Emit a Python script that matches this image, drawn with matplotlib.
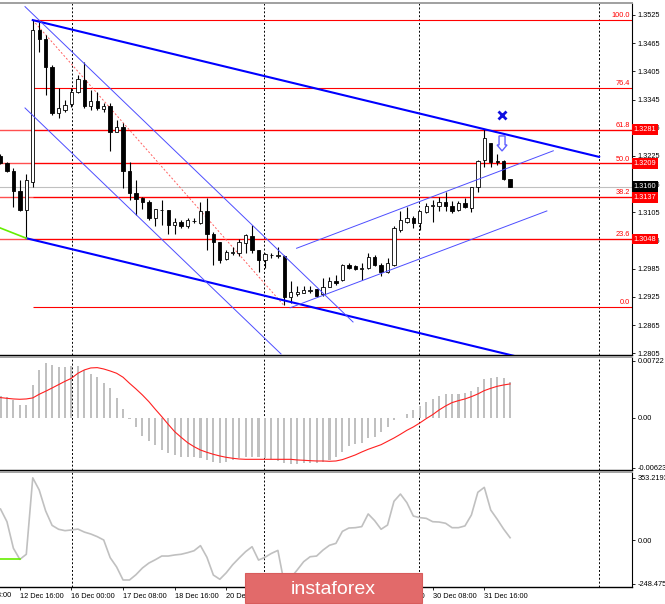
import matplotlib
matplotlib.use("Agg")
import matplotlib.pyplot as plt
import matplotlib.transforms as mtransforms
from matplotlib.patches import Rectangle, Polygon
import numpy as np

plt.rcParams["font.family"] = ["Liberation Sans", "DejaVu Sans"]

# H4 candles, bar index 0..79
opens = [1.3224, 1.3209, 1.3193, 1.3151, 1.3109, 1.3170, 1.3493, 1.3473, 1.3415, 1.3316,
         1.3323, 1.3336, 1.3362, 1.3387, 1.3331, 1.3341, 1.3324, 1.3331, 1.3277, 1.3287,
         1.3192, 1.3146, 1.3136, 1.3127, 1.3092, 1.3109, 1.3109, 1.3078, 1.3085, 1.3075,
         1.3086, 1.3083, 1.3107, 1.3060, 1.3041, 1.3005, 1.3019, 1.3019, 1.3039, 1.3055,
         1.3024, 1.3004, 1.3014, 1.3012, 1.3012, 1.2924, 1.2931, 1.2934, 1.2938, 1.2941,
         1.2931, 1.2947, 1.2959, 1.2961, 1.2993, 1.2990, 1.2985, 1.2986, 1.3009, 1.2992,
         1.2979, 1.2993, 1.3068, 1.3085, 1.3092, 1.3083, 1.3105, 1.3119, 1.3119, 1.3126,
         1.3119, 1.3110, 1.3124, 1.3115, 1.3158, 1.3217, 1.3252, 1.3215, 1.3215, 1.3176]
highs = [1.3229, 1.3213, 1.3199, 1.3174, 1.3187, 1.3514, 1.3511, 1.3482, 1.3419, 1.3369,
         1.3344, 1.3369, 1.3397, 1.3424, 1.3365, 1.3362, 1.3337, 1.3337, 1.3302, 1.3295,
         1.3213, 1.3174, 1.3138, 1.3131, 1.3112, 1.3131, 1.3110, 1.3092, 1.3089, 1.3092,
         1.3092, 1.3128, 1.3135, 1.3064, 1.3043, 1.3025, 1.3032, 1.3048, 1.3058, 1.3078,
         1.3025, 1.3018, 1.3018, 1.3032, 1.3014, 1.2960, 1.2948, 1.2948, 1.2948, 1.2943,
         1.2966, 1.2968, 1.2972, 1.2995, 1.2997, 1.2993, 1.2998, 1.3018, 1.3014, 1.2997,
         1.3007, 1.3075, 1.3107, 1.3117, 1.3097, 1.3108, 1.3124, 1.3131, 1.3138, 1.3149,
         1.3129, 1.3129, 1.3136, 1.3160, 1.3217, 1.3282, 1.3253, 1.3229, 1.3217, 1.3177]
lows = [1.3208, 1.3190, 1.3117, 1.3107, 1.3050, 1.3160, 1.3447, 1.3355, 1.3312, 1.3305,
        1.3319, 1.3330, 1.3358, 1.3326, 1.3323, 1.3323, 1.3319, 1.3236, 1.3275, 1.3156,
        1.3131, 1.3099, 1.3112, 1.3089, 1.3075, 1.3078, 1.3060, 1.3060, 1.3071, 1.3071,
        1.3082, 1.3080, 1.3025, 1.2992, 1.2997, 1.3004, 1.3014, 1.3012, 1.3018, 1.3019,
        1.2979, 1.2986, 1.3007, 1.3007, 1.2908, 1.2912, 1.2926, 1.2933, 1.2933, 1.2924,
        1.2926, 1.2946, 1.2950, 1.2960, 1.2984, 1.2982, 1.2961, 1.2984, 1.2990, 1.2970,
        1.2977, 1.2991, 1.3063, 1.3083, 1.3072, 1.3068, 1.3103, 1.3085, 1.3107, 1.3107,
        1.3103, 1.3108, 1.3114, 1.3105, 1.3149, 1.3202, 1.3202, 1.3206, 1.3174, 1.3158]
closes = [1.3211, 1.3192, 1.3151, 1.3109, 1.3174, 1.3492, 1.3473, 1.3415, 1.3316, 1.3326,
          1.3333, 1.3362, 1.3388, 1.3331, 1.3341, 1.3326, 1.3331, 1.3277, 1.3286, 1.3192,
          1.3147, 1.3133, 1.3126, 1.3092, 1.3112, 1.3110, 1.3078, 1.3085, 1.3076, 1.3089,
          1.3087, 1.3107, 1.3060, 1.3041, 1.3004, 1.3021, 1.3021, 1.3041, 1.3056, 1.3024,
          1.3004, 1.3016, 1.3015, 1.3014, 1.2924, 1.2935, 1.2936, 1.2940, 1.2939, 1.2927,
          1.2947, 1.2958, 1.2954, 1.2992, 1.2986, 1.2984, 1.2987, 1.3011, 1.2992, 1.2979,
          1.2997, 1.3071, 1.3089, 1.3092, 1.3083, 1.3108, 1.3119, 1.3120, 1.3126, 1.3119,
          1.3108, 1.3124, 1.3117, 1.3158, 1.3214, 1.3264, 1.3213, 1.3213, 1.3177, 1.3160]

macd_hist = [0.00277, 0.00268, 0.00226, 0.00164, 0.00164, 0.00415, 0.00604, 0.00688, 0.00667, 0.00645,
             0.00638, 0.00658, 0.00658, 0.00604, 0.00553, 0.00512, 0.00436, 0.00374, 0.00255, 0.00109,
             -0.00009, -0.00117, -0.00226, -0.00289, -0.00340, -0.00403, -0.00436, -0.00465, -0.00487, -0.00487,
             -0.00487, -0.00507, -0.00528, -0.00550, -0.00562, -0.00550, -0.00528, -0.00507, -0.00494, -0.00487,
             -0.00487, -0.00499, -0.00519, -0.00541, -0.00570, -0.00579, -0.00579, -0.00570, -0.00570, -0.00562,
             -0.00550, -0.00528, -0.00487, -0.00424, -0.00352, -0.00331, -0.00311, -0.00255, -0.00235, -0.00172,
             -0.00109, -0.00025, -0.00004, 0.00047, 0.00101, 0.00151, 0.00205, 0.00239, 0.00277, 0.00298,
             0.00298, 0.00302, 0.00311, 0.00343, 0.00394, 0.00487, 0.00507, 0.00519, 0.00499, 0.00457]
macd_signal = [0.00256, 0.00247, 0.00239, 0.00235, 0.00239, 0.00252, 0.00298, 0.00336, 0.00377, 0.00419,
               0.00461, 0.00499, 0.00562, 0.00604, 0.00629, 0.00633, 0.00616, 0.00591, 0.00562, 0.00512,
               0.00436, 0.00365, 0.00289, 0.00205, 0.00109, 0.00017, -0.00080, -0.00172, -0.00243, -0.00310,
               -0.00361, -0.00403, -0.00432, -0.00457, -0.00478, -0.00495, -0.00507, -0.00516, -0.00520, -0.00520,
               -0.00520, -0.00520, -0.00520, -0.00520, -0.00520, -0.00520, -0.00528, -0.00532, -0.00537, -0.00541,
               -0.00541, -0.00545, -0.00541, -0.00524, -0.00495, -0.00465, -0.00428, -0.00394, -0.00365, -0.00336,
               -0.00294, -0.00252, -0.00205, -0.00155, -0.00113, -0.00063, -0.00008, 0.00042, 0.00101, 0.00151,
               0.00193, 0.00218, 0.00239, 0.00268, 0.00302, 0.00344, 0.00373, 0.00398, 0.00415, 0.00428]
cci = [176, 104, -47, -110, -81, 353, 284, 165, 83, 61,
       53, 57, 62, 45, 34, 19, 0, -100, -153, -227,
       -227, -197, -159, -131, -112, -91, -91, -85, -81, -72,
       -61, -32, -98, -199, -223, -186, -140, -102, -66, -38,
       -114, -98, -76, -59, -248, -215, -170, -123, -95, -91,
       -57, -30, -19, 49, 68, 70, 76, 148, 110, 61,
       85, 220, 261, 212, 136, 127, 123, 104, 102, 95,
       70, 70, 80, 142, 271, 299, 170, 118, 62, 13]

date_bars = [-5, 3, 11, 19, 27, 35, 43, 51, 59, 67, 75]
date_labels = ["11 Dec 08:00", "12 Dec 16:00", "16 Dec 00:00", "17 Dec 08:00", "18 Dec 16:00",
               "20 Dec 00:00", "23 Dec 08:00", "24 Dec 16:00", "27 Dec 00:00",
               "30 Dec 08:00", "31 Dec 16:00"]
separators = [11.05, 40.85, 64.9, 92.8]

price_ticks = [1.3525, 1.3465, 1.3405, 1.3345, 1.3285, 1.3225, 1.3165,
               1.3105, 1.3045, 1.2985, 1.2925, 1.2865, 1.2805]
fib_levels = ["0.0", "23.6", "38.2", "50.0", "61.8", "76.4", "100.0"]
fib_prices = [1.2904, 1.3048, 1.3137, 1.3209, 1.3281, 1.3370, 1.3514]
hline_prices = [1.3281, 1.3209, 1.3137, 1.3048]
last_price = 1.3160

# trendline anchors (bar, price)
chan_upper = ([5, 92.8], [1.3514, 1.3223])
chan_lower = ([4, 92.8], [1.3050, 1.2756])
green_line = ([-0.08, 4], [1.3072, 1.3050])
down_upper = ([3.8, 54.65], [1.35427, 1.28718])
down_lower = ([3.8, 43.49], [1.33271, 1.28037])
fib_diag = ([5, 44], [1.3514, 1.2906])
up_upper = ([45.9, 85.7], [1.30286, 1.3236])
up_lower = ([44.9, 84.7], [1.2902, 1.3108])
cross_mark = (77.75, 1.3313)
arrow_mark = (77.75, 1.32516)

FS = 5.3
XMIN, XMAX = -0.0775, 97.9

fig = plt.figure(figsize=(6.65, 6.04), dpi=100)
ax = fig.add_axes([0, 0.4123, 0.9504, 0.5828])
ax_macd = fig.add_axes([0, 0.2219, 0.9504, 0.1871], sharex=ax)
ax_cci = fig.add_axes([0, 0.0281, 0.9504, 0.1904], sharex=ax)

for a in (ax, ax_macd, ax_cci):
    a.set_xlim(XMIN, XMAX)
    a.yaxis.tick_right()
    a.spines["left"].set_visible(False)
    a.spines["right"].set_linewidth(0.8)
    a.spines["bottom"].set_linewidth(1.0)
    a.spines["top"].set_color("#a0a0a0")
    a.spines["top"].set_linewidth(1.4)
    a.tick_params(axis="y", direction="out", length=2.5, width=0.6, pad=1.5, labelsize=FS)
    for s in separators:
        a.axvline(s, color="black", lw=0.7, ls=(0, (2, 2)), zorder=1)

# --- main price panel
x = np.arange(len(opens))
o = np.array(opens)
c = np.array(closes)
ax.vlines(x, lows, highs, color="black", lw=0.8, zorder=3)
body_col = np.where(c >= o, "white", "black")
ax.bar(x, np.abs(c - o), bottom=np.minimum(o, c), width=0.52, color=body_col,
       edgecolor="black", linewidth=0.6, zorder=4)

ax.axhline(last_price, color="#c0c0c0", lw=0.8, zorder=1)
for p in hline_prices:
    ax.axhline(p, color="#ff5050", lw=1.0, zorder=1)
ax.hlines(fib_prices, fib_diag[0][0], XMAX, color="red", lw=0.8, zorder=1)
for lvl, p in zip(fib_levels, fib_prices):
    ax.text(630 / 632, p + 0.0002, lvl, transform=ax.get_yaxis_transform(),
            ha="right", va="bottom", fontsize=FS, color="red")

ax.plot(*fib_diag, color="#ff6060", lw=0.7, ls=(0, (2, 2)), zorder=2)
ax.plot(*chan_upper, color="#0000ff", lw=1.5, zorder=5)
ax.plot(*chan_lower, color="#0000ff", lw=1.5, zorder=5)
ax.plot(*green_line, color="#66ee00", lw=1.2, zorder=5)
for ln in (down_upper, down_lower, up_upper, up_lower):
    ax.plot(*ln, color="#4d4dff", lw=0.7, zorder=5)
ax.plot(*cross_mark, marker="x", color="#1010e0", ms=6, mew=2, zorder=6)

# hollow down arrow, shape given in pixels around its anchor
arrow_shape = np.array([(-3, 7.5), (3, 7.5), (3, -1.5), (5, -1.5), (0, -7.5), (-5, -1.5), (-3, -1.5)]) / 100
arrow_tr = fig.dpi_scale_trans + mtransforms.ScaledTranslation(*arrow_mark, ax.transData)
ax.add_patch(Polygon(arrow_shape, closed=True, transform=arrow_tr, fc="white",
                     ec="#6060ff", lw=1.0, zorder=7))

ax.set_ylim(1.28016, 1.35505)
ax.set_yticks(price_ticks)
ax.set_yticklabels([f"{t:.4f}" for t in price_ticks])
for p in hline_prices:
    ax.text(1.003, p, f"{p:.4f}", transform=ax.get_yaxis_transform(), ha="left", va="center",
            fontsize=FS, color="white", zorder=10, clip_on=False,
            bbox=dict(boxstyle="square,pad=0.25", fc="red", ec="none"))
ax.text(1.003, last_price, f"{last_price:.4f}", transform=ax.get_yaxis_transform(), ha="left",
        va="center", fontsize=FS, color="white", zorder=10, clip_on=False,
        bbox=dict(boxstyle="square,pad=0.25", fc="black", ec="none"))
ax.tick_params(axis="x", bottom=False, labelbottom=False)

# --- MACD panel
ax_macd.bar(x, macd_hist, width=0.32, color="#c0c0c0", zorder=2)
ax_macd.plot(x, macd_signal, color="#ff2020", lw=0.8, zorder=3)
ax_macd.set_ylim(-0.00654, 0.00767)
ax_macd.set_yticks([0.00722, 0.0, -0.00623])
ax_macd.set_yticklabels(["0.00722", "0.00", "-0.00623"])
ax_macd.tick_params(axis="x", bottom=False, labelbottom=False)

# --- CCI panel
ax_cci.plot(x, cci, color="#c0c0c0", lw=1.2, zorder=2)
ax_cci.plot([-0.08, 3], [-110, -110], color="#66ee00", lw=1.2, zorder=3)
ax_cci.set_ylim(-267, 386)
ax_cci.set_yticks([353.2193, 0.0, -248.475])
ax_cci.set_yticklabels(["353.2193", "0.00", "-248.475"])
ax_cci.set_xticks(date_bars[1:])
ax_cci.set_xticklabels(date_labels[1:])
ax_cci.tick_params(axis="x", direction="out", length=2.5, width=0.6, pad=2, labelsize=FS)
for lab in ax_cci.get_xticklabels():
    lab.set_ha("left")
ax_cci.text(date_bars[0], -0.045, date_labels[0], transform=ax_cci.get_xaxis_transform(),
            ha="left", va="top", fontsize=FS, clip_on=False)

# watermark
fig.patches.append(Rectangle((245 / 665, 1 / 604), 177 / 665, 30 / 604, transform=fig.transFigure,
                             fc="#e26a6a", ec="#d85c5c", lw=0.8, zorder=20))
fig.text(333 / 665, 15 / 604, "instaforex", color="white", fontsize=14,
         ha="center", va="center", zorder=21)

fig.savefig("out.png", dpi=100, facecolor="white")
